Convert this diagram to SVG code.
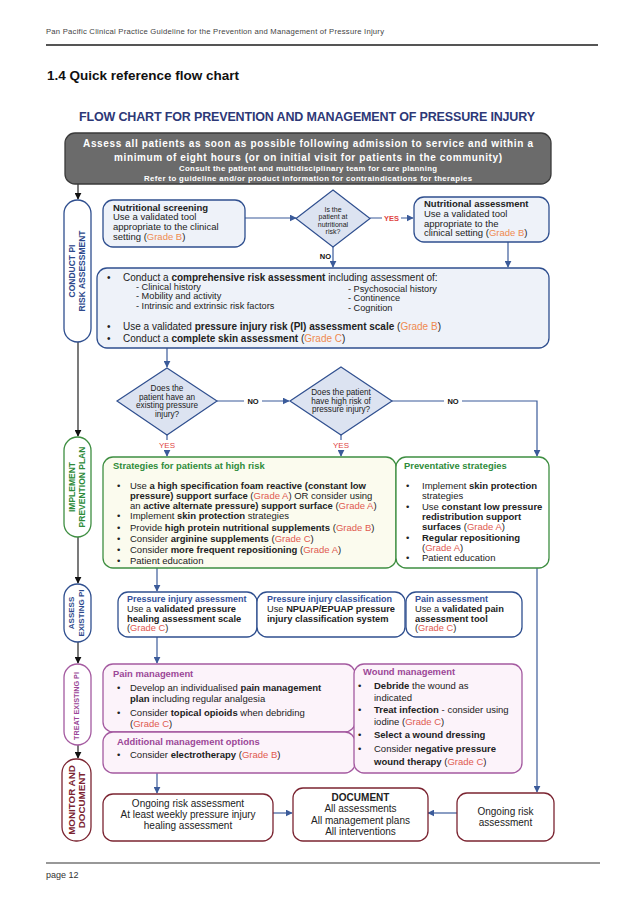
<svg xmlns="http://www.w3.org/2000/svg" width="638" height="903" viewBox="0 0 638 903">
<defs>
<style>
text{font-family:"Liberation Sans",Arial,sans-serif;fill:#222}
.hd{font-size:7.7px;fill:#444}
.h1{font-size:13.5px;font-weight:bold;fill:#111}
.ttl{font-size:12.5px;font-weight:bold;fill:#2d3877}
.w1{font-size:10px;font-weight:bold;fill:#fff;text-anchor:middle}
.w2{font-size:7.8px;font-weight:bold;fill:#fff;text-anchor:middle}
.n{font-size:9.5px}
.t{font-size:10px}
.t2{font-size:9.2px}
.s{font-size:9.5px}
.s2{font-size:9.3px}
.b{font-weight:bold}
.go{fill:#ef8a50}
.gr{fill:#e05a50}
.dt{font-size:7px;text-anchor:middle}
.dt2{font-size:8.2px;text-anchor:middle}
.lk{font-size:7.5px;font-weight:bold;fill:#111}
.ly{font-size:7.5px;font-weight:bold;fill:#e0453f}
.ly2{font-size:8px;fill:#e0453f;text-anchor:middle}
.bt{font-size:9px;font-weight:bold;fill:#34509a}
.gt{font-size:9.4px;font-weight:bold;fill:#2e8b3a}
.pt{font-size:9.4px;font-weight:bold;fill:#9b4797}
.ctr{font-size:10px;text-anchor:middle}
.bl{fill:#eef2f9;stroke:#2f4f8f;stroke-width:1.3}
.bw{fill:#fff;stroke:#2f4f8f;stroke-width:1.3}
.dm{fill:#dce3f1;stroke:#2f4f8f;stroke-width:1.2}
.gn{stroke:#3e8e41;stroke-width:1.3}
.pp{fill:#fcf3fa;stroke:#a45aa0;stroke-width:1.3}
.rd{fill:#fff;stroke:#7b2431;stroke-width:1.3}
.ca{fill:none;stroke:#3b5b9a;stroke-width:1.2;marker-end:url(#ab)}
.ck{fill:none;stroke:#333;stroke-width:1.3;marker-end:url(#ak)}
.pill{fill:#fff;stroke-width:1.3}
</style>
<marker id="ab" viewBox="0 0 10 10" refX="9" refY="5" markerWidth="7" markerHeight="7" markerUnits="userSpaceOnUse" orient="auto"><path d="M0,0 L10,5 L0,10 z" fill="#3b5b9a"/></marker>
<marker id="ak" viewBox="0 0 10 10" refX="9" refY="5" markerWidth="7" markerHeight="7" markerUnits="userSpaceOnUse" orient="auto"><path d="M0,0 L10,5 L0,10 z" fill="#111"/></marker>
</defs>
<rect width="638" height="903" fill="#fff"/>

<g id="page">
<text class="hd" x="46" y="34" textLength="338">Pan Pacific Clinical Practice Guideline for the Prevention and Management of Pressure Injury</text>
<line x1="46" y1="45" x2="598" y2="45" stroke="#555" stroke-width="1.8"/>
<text class="h1" x="47" y="80">1.4 Quick reference flow chart</text>
<text class="ttl" x="79" y="121" textLength="456">FLOW CHART FOR PREVENTION AND MANAGEMENT OF PRESSURE INJURY</text>
<line x1="46" y1="863" x2="600" y2="863" stroke="#333" stroke-width="1.2"/>
<text x="46" y="878" style="font-size:9px;fill:#333">page 12</text>
</g>

<g id="connectors">
<line class="ck" x1="78" y1="184" x2="78" y2="199"/>
<line class="ck" x1="78" y1="342" x2="78" y2="436"/>
<line class="ck" x1="78" y1="537" x2="78" y2="583"/>
<line class="ck" x1="78" y1="642" x2="78" y2="663"/>
<line class="ck" x1="78" y1="745" x2="78" y2="758"/>
<line class="ca" x1="245" y1="218" x2="296" y2="218"/>
<line class="ca" x1="370" y1="218" x2="413" y2="218"/>
<rect x="382" y="213" width="19" height="10" fill="#fff"/>
<text class="ly" x="391.5" y="221" text-anchor="middle">YES</text>
<line class="ca" x1="333" y1="247" x2="333" y2="267"/>
<text class="lk" x="331" y="259" text-anchor="end">NO</text>
<line class="ca" x1="508" y1="242" x2="508" y2="267"/>
<line class="ca" x1="167" y1="348" x2="167" y2="367"/>
<line class="ca" x1="217" y1="401" x2="289" y2="401"/>
<rect x="244" y="396" width="18" height="10" fill="#fff"/>
<text class="lk" x="253" y="404" text-anchor="middle">NO</text>
<path class="ca" d="M392,401 H537 V456"/>
<rect x="444" y="396" width="18" height="10" fill="#fff"/>
<text class="lk" x="453" y="404" text-anchor="middle">NO</text>
<line class="ca" x1="167" y1="435" x2="167" y2="456"/>
<rect x="156" y="440" width="22" height="10" fill="#fff"/>
<text class="ly2" x="167" y="448">YES</text>
<line class="ca" x1="341" y1="435" x2="341" y2="456"/>
<rect x="330" y="440" width="22" height="10" fill="#fff"/>
<text class="ly2" x="341" y="448">YES</text>
<line class="ca" x1="157" y1="568" x2="157" y2="591"/>
<line class="ca" x1="157" y1="637" x2="157" y2="663"/>
<line class="ca" x1="157" y1="773" x2="157" y2="793"/>
<line class="ca" x1="537" y1="568" x2="537" y2="792"/>
<line class="ca" x1="273" y1="813" x2="292" y2="813"/>
<line class="ca" x1="457" y1="813" x2="428" y2="813"/>
</g>

<g id="top-box">
<rect x="65" y="133" width="486" height="51" rx="10" fill="#6b6b6b" stroke="#3a3a3a" stroke-width="1.3"/>
<text class="w1" x="308" y="147" textLength="450">Assess all patients as soon as possible following admission to service and within a</text>
<text class="w1" x="308" y="161" textLength="388">minimum of eight hours (or on initial visit for patients in the community)</text>
<text class="w2" x="308" y="171" textLength="258">Consult the patient and multidisciplinary team for care planning</text>
<text class="w2" x="308" y="181" textLength="328">Refer to guideline and/or product information for contraindications for therapies</text>
</g>

<g id="stage-conduct">
<rect class="pill" x="64" y="200" width="27" height="142" rx="13.5" stroke="#2f4f8f"/>
<text transform="translate(77.5,271) rotate(-90)" style="font-size:8.5px;font-weight:bold;fill:#2e4a8c" text-anchor="middle"><tspan x="0" y="-3">CONDUCT PI</tspan><tspan x="0" y="7.5">RISK ASSESSMENT</tspan></text>
</g>
<g id="stage-implement">
<rect class="pill" x="64" y="437" width="27" height="100" rx="13.5" stroke="#3e8e41"/>
<text transform="translate(77.5,487) rotate(-90)" style="font-size:8.5px;font-weight:bold;fill:#2e8b3a" text-anchor="middle"><tspan x="0" y="-3">IMPLEMENT</tspan><tspan x="0" y="7.5">PREVENTION PLAN</tspan></text>
</g>
<g id="stage-assess">
<rect class="pill" x="64" y="584" width="27" height="58" rx="13.5" stroke="#2f4f8f"/>
<text transform="translate(77.5,613) rotate(-90)" style="font-size:8px;font-weight:bold;fill:#2e4a8c" text-anchor="middle"><tspan x="0" y="-3.5">ASSESS</tspan><tspan x="0" y="6.5">EXISTING PI</tspan></text>
</g>
<g id="stage-treat">
<rect class="pill" x="64" y="664" width="27" height="81" rx="13.5" stroke="#a45aa0"/>
<text transform="translate(77.5,706) rotate(-90)" style="font-size:7.2px;font-weight:bold;fill:#9b4797" text-anchor="middle" x="0" y="1.5">TREAT EXISTING PI</text>
</g>
<g id="stage-monitor">
<rect class="pill" x="62" y="759" width="29" height="82" rx="14" stroke="#7b2431"/>
<text transform="translate(76.5,800) rotate(-90)" style="font-size:9.8px;font-weight:bold;fill:#7b2431" text-anchor="middle"><tspan x="0" y="-2">MONITOR AND</tspan><tspan x="0" y="8">DOCUMENT</tspan></text>
</g>

<g id="nutritional-screening">
<rect class="bl" x="103" y="200" width="142" height="47" rx="10"/>
<text class="n"><tspan x="113" y="210.5" class="b">Nutritional screening</tspan><tspan x="113" y="220.3">Use a validated tool</tspan><tspan x="113" y="230.1">appropriate to the clinical</tspan><tspan x="113" y="239.9">setting (<tspan class="go">Grade B</tspan>)</tspan></text>
</g>

<g id="nutritional-risk-decision">
<polygon class="dm" points="333,190 370,218.5 333,247 296,218.5"/>
<text class="dt"><tspan x="333" y="211.5">Is the</tspan><tspan x="333" y="219">patient at</tspan><tspan x="333" y="226.5">nutritional</tspan><tspan x="333" y="234">risk?</tspan></text>
</g>

<g id="nutritional-assessment">
<rect class="bl" x="414" y="197" width="135" height="45" rx="10"/>
<text class="n"><tspan x="424" y="207" class="b">Nutritional assessment</tspan><tspan x="424" y="216.8">Use a validated tool</tspan><tspan x="424" y="226.6">appropriate to the</tspan><tspan x="424" y="236.4">clinical setting (<tspan class="go">Grade B</tspan>)</tspan></text>
</g>

<g id="risk-assessment">
<rect class="bl" x="97" y="268" width="452" height="80" rx="10"/>
<text class="t"><tspan x="107" y="280.5">•</tspan><tspan x="123" y="280.5">Conduct a <tspan class="b">comprehensive risk assessment</tspan> including assessment of:</tspan></text>
<text class="t2"><tspan x="136" y="290">- Clinical history</tspan><tspan x="136" y="299.3">- Mobility and activity</tspan><tspan x="136" y="308.6">- Intrinsic and extrinsic risk factors</tspan>
<tspan x="348" y="292">- Psychosocial history</tspan><tspan x="348" y="301.3">- Continence</tspan><tspan x="348" y="310.6">- Cognition</tspan></text>
<text class="t"><tspan x="107" y="330">•</tspan><tspan x="123" y="330">Use a validated <tspan class="b">pressure injury risk (PI) assessment scale</tspan> (<tspan class="go">Grade B</tspan>)</tspan>
<tspan x="107" y="341.5">•</tspan><tspan x="123" y="341.5">Conduct a <tspan class="b">complete skin assessment</tspan> (<tspan class="go">Grade C</tspan>)</tspan></text>
</g>

<g id="existing-pi-decision">
<polygon class="dm" points="167,368 217,401 167,435 117,401"/>
<text class="dt2"><tspan x="167" y="391">Does the</tspan><tspan x="167" y="399.5">patient have an</tspan><tspan x="167" y="408">existing pressure</tspan><tspan x="167" y="416.5">injury?</tspan></text>
</g>

<g id="high-risk-decision">
<polygon class="dm" points="341,367 392,401 341,435 290,401"/>
<text class="dt2"><tspan x="341" y="395">Does the patient</tspan><tspan x="341" y="403.5">have high risk of</tspan><tspan x="341" y="412">pressure injury?</tspan></text>
</g>

<g id="high-risk-strategies">
<rect class="gn" x="103" y="457" width="293" height="111" rx="10" fill="#fbfbee"/>
<text class="gt" x="113" y="469">Strategies for patients at high risk</text>
<text class="s"><tspan x="117" y="488.5">•</tspan><tspan x="130" y="488.5">Use <tspan class="b">a high specification foam reactive (constant low</tspan></tspan>
<tspan x="130" y="498.5"><tspan class="b">pressure) support surface</tspan> (<tspan class="gr">Grade A</tspan>) OR consider using</tspan>
<tspan x="130" y="508.5">an <tspan class="b">active alternate pressure) support surface</tspan> (<tspan class="gr">Grade A</tspan>)</tspan>
<tspan x="117" y="518.5">•</tspan><tspan x="130" y="518.5">Implement <tspan class="b">skin protection</tspan> strategies</tspan>
<tspan x="117" y="530.5">•</tspan><tspan x="130" y="530.5">Provide <tspan class="b">high protein nutritional supplements</tspan> (<tspan class="gr">Grade B</tspan>)</tspan>
<tspan x="117" y="541.5">•</tspan><tspan x="130" y="541.5">Consider <tspan class="b">arginine supplements</tspan> (<tspan class="gr">Grade C</tspan>)</tspan>
<tspan x="117" y="552.5">•</tspan><tspan x="130" y="552.5">Consider <tspan class="b">more frequent repositioning</tspan> (<tspan class="gr">Grade A</tspan>)</tspan>
<tspan x="117" y="563.5">•</tspan><tspan x="130" y="563.5">Patient education</tspan></text>
</g>

<g id="preventative-strategies">
<rect class="gn" x="396" y="457" width="153" height="111" rx="10" fill="#fff"/>
<text class="gt" x="404" y="469">Preventative strategies</text>
<text class="s"><tspan x="406" y="488.5">•</tspan><tspan x="422" y="488.5">Implement <tspan class="b">skin protection</tspan></tspan>
<tspan x="422" y="498.5">strategies</tspan>
<tspan x="406" y="509.5">•</tspan><tspan x="422" y="509.5">Use <tspan class="b">constant low pressure</tspan></tspan>
<tspan x="422" y="519.5" class="b">redistribution support</tspan>
<tspan x="422" y="529.5"><tspan class="b">surfaces</tspan> (<tspan class="gr">Grade A</tspan>)</tspan>
<tspan x="406" y="540.5">•</tspan><tspan x="422" y="540.5" class="b">Regular repositioning</tspan>
<tspan x="422" y="550.5">(<tspan class="gr">Grade A</tspan>)</tspan>
<tspan x="406" y="560.5">•</tspan><tspan x="422" y="560.5">Patient education</tspan></text>
</g>

<g id="pi-assessment">
<rect class="bw" x="118" y="592" width="139" height="45" rx="10"/>
<text class="bt" x="127" y="602">Pressure injury assessment</text>
<text class="s2"><tspan x="127" y="612">Use a <tspan class="b">validated pressure</tspan></tspan><tspan x="127" y="621.5" class="b">healing assessment scale</tspan><tspan x="127" y="631">(<tspan class="gr">Grade C</tspan>)</tspan></text>
</g>

<g id="pi-classification">
<rect class="bw" x="257" y="592" width="148" height="45" rx="10"/>
<text class="bt" x="267" y="602">Pressure injury classification</text>
<text class="s2"><tspan x="267" y="612">Use <tspan class="b">NPUAP/EPUAP pressure</tspan></tspan><tspan x="267" y="621.5" class="b">injury classification system</tspan></text>
</g>

<g id="pain-assessment">
<rect class="bw" x="406" y="592" width="116" height="45" rx="10"/>
<text class="bt" x="415" y="602">Pain assessment</text>
<text class="s2"><tspan x="415" y="612">Use a <tspan class="b">validated pain</tspan></tspan><tspan x="415" y="621.5" class="b">assessment tool</tspan><tspan x="415" y="631">(<tspan class="gr">Grade C</tspan>)</tspan></text>
</g>

<g id="pain-management">
<rect class="pp" x="103" y="664" width="252" height="68" rx="10"/>
<text class="pt" x="113" y="677">Pain management</text>
<text class="s"><tspan x="117" y="690.5">•</tspan><tspan x="130" y="690.5">Develop an individualised <tspan class="b">pain management</tspan></tspan>
<tspan x="130" y="701.5"><tspan class="b">plan</tspan> including regular analgesia</tspan>
<tspan x="117" y="715.5">•</tspan><tspan x="130" y="715.5">Consider <tspan class="b">topical opioids</tspan> when debriding</tspan>
<tspan x="130" y="727">(<tspan class="gr">Grade C</tspan>)</tspan></text>
</g>

<g id="additional-management">
<rect class="pp" x="103" y="732" width="252" height="41" rx="10"/>
<text class="pt" x="117" y="745">Additional management options</text>
<text class="s"><tspan x="117" y="758">•</tspan><tspan x="130" y="758">Consider <tspan class="b">electrotherapy</tspan> (<tspan class="gr">Grade B</tspan>)</tspan></text>
</g>

<g id="wound-management">
<rect class="pp" x="354" y="664" width="168" height="109" rx="10"/>
<text class="pt" x="363" y="674.5">Wound management</text>
<text class="s"><tspan x="358" y="688.5">•</tspan><tspan x="374" y="688.5"><tspan class="b">Debride</tspan> the wound as</tspan>
<tspan x="374" y="700.5">indicated</tspan>
<tspan x="358" y="712.5">•</tspan><tspan x="374" y="712.5"><tspan class="b">Treat infection</tspan> - consider using</tspan>
<tspan x="374" y="725">iodine (<tspan class="gr">Grade C</tspan>)</tspan>
<tspan x="358" y="737.5">•</tspan><tspan x="374" y="737.5" class="b">Select a wound dressing</tspan>
<tspan x="358" y="751.5">•</tspan><tspan x="374" y="751.5">Consider <tspan class="b">negative pressure</tspan></tspan>
<tspan x="374" y="764.5"><tspan class="b">wound  therapy</tspan> (<tspan class="gr">Grade C</tspan>)</tspan></text>
</g>

<g id="ongoing-left">
<rect class="rd" x="103" y="794" width="170" height="47" rx="10"/>
<text class="ctr"><tspan x="188" y="807">Ongoing risk assessment</tspan><tspan x="188" y="818">At least weekly pressure injury</tspan><tspan x="188" y="829">healing assessment</tspan></text>
</g>

<g id="document">
<rect class="rd" x="293" y="788" width="135" height="53" rx="10"/>
<text class="ctr"><tspan x="360.5" y="801" class="b">DOCUMENT</tspan><tspan x="360.5" y="812">All assessments</tspan><tspan x="360.5" y="824">All management plans</tspan><tspan x="360.5" y="835">All interventions</tspan></text>
</g>

<g id="ongoing-right">
<rect class="rd" x="457" y="793" width="97" height="48" rx="10"/>
<text class="ctr"><tspan x="505.5" y="815">Ongoing risk</tspan><tspan x="505.5" y="826">assessment</tspan></text>
</g>
</svg>
